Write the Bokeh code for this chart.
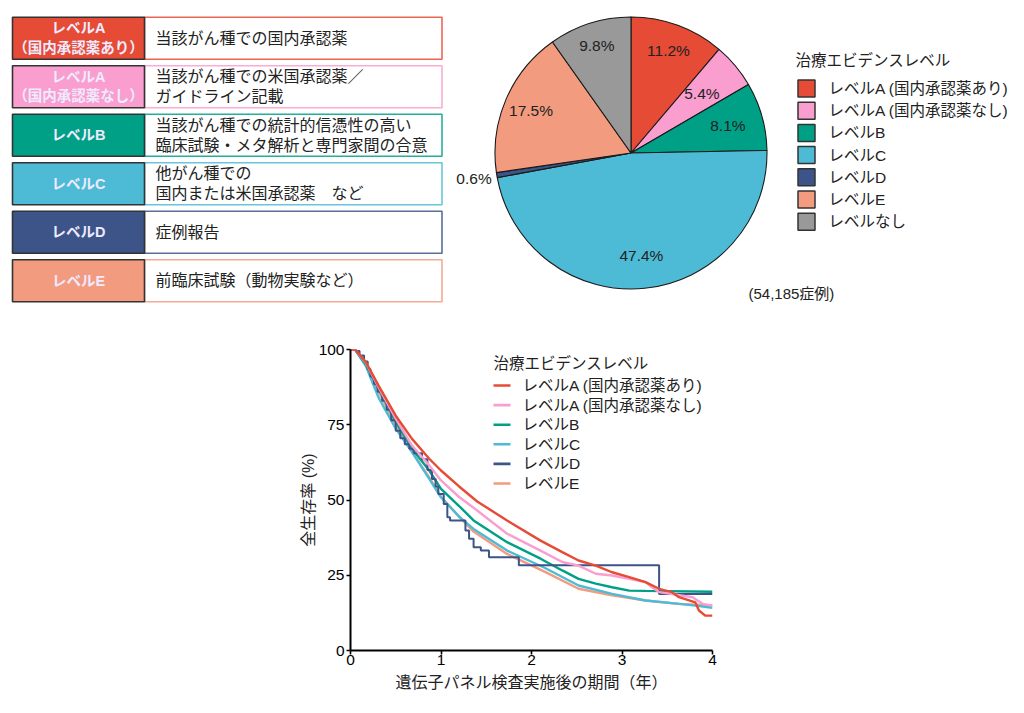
import math
from bokeh.plotting import figure
from bokeh.models import Range1d
from bokeh.embed import file_html
from bokeh.resources import INLINE
from bokeh.core.properties import value

FONT = "Liberation Sans, Noto Sans CJK JP, sans-serif"
TXT = "#222222"

# ---------------- data ----------------
level_names = ["レベルA (国内承認薬あり)", "レベルA (国内承認薬なし)", "レベルB",
               "レベルC", "レベルD", "レベルE", "レベルなし"]
pie_pct = [11.2, 5.4, 8.1, 47.4, 0.6, 17.5, 9.8]
n_cases_label = "(54,185症例)"
legend_title = "治療エビデンスレベル"

table_badge = [["レベルA", "（国内承認薬あり）"],
               ["レベルA", "（国内承認薬なし）"],
               ["レベルB"], ["レベルC"], ["レベルD"], ["レベルE"]]
table_desc = [["当該がん種での国内承認薬"],
              ["当該がん種での米国承認薬／", "ガイドライン記載"],
              ["当該がん種での統計的信憑性の高い", "臨床試験・メタ解析と専門家間の合意"],
              ["他がん種での", "国内または米国承認薬　など"],
              ["症例報告"],
              ["前臨床試験（動物実験など）"]]

colors = ["#E64B35", "#F99ECE", "#00A087", "#4DBBD5", "#3C5488", "#F39B7F", "#999999"]

# Kaplan-Meier readings (years, survival %)
km_t_a1 = [0, 0.05, 0.17, 0.31, 0.5, 0.68, 0.87, 1.0, 1.2, 1.4, 1.73, 2.1, 2.34, 2.52, 2.71, 2.89,
           3.08, 3.26, 3.41, 3.55, 3.63, 3.81, 3.85, 3.92, 4.0]
km_s_a1 = [100, 100, 95.8, 88, 78, 70.3, 63.7, 59.8, 54.5, 49.5, 43.2, 36.5, 32.7, 29.9, 28.2, 26,
           24.4, 22.7, 20.5, 19.4, 17.7, 16, 13.3, 11.6, 11.6]
km_t_a2 = [0, 0.05, 0.17, 0.31, 0.5, 0.68, 0.87, 1.0, 1.2, 1.4, 1.73, 2.1, 2.34, 2.52, 2.71, 2.89,
           3.08, 3.26, 3.33, 3.41, 3.78, 3.89, 4.0]
km_s_a2 = [100, 100, 95.5, 87.5, 77, 68.1, 61.5, 56.5, 51, 46.5, 38.8, 33.2, 29.4, 28.2, 25.5, 24.9,
           23.8, 22.7, 21, 19.4, 17.7, 15.5, 14.9]
km_t_b = [0, 0.05, 0.17, 0.31, 0.5, 0.68, 0.87, 1.0, 1.2, 1.36, 1.73, 2.1, 2.34, 2.52, 2.71, 2.89,
          3.08, 3.26, 4.0]
km_s_b = [100, 100, 95, 86.9, 76, 67, 59.8, 53.7, 48, 43.2, 36, 30.5, 26.6, 23.8, 22.2, 21,
          19.9, 19.8, 19.5]
km_t_c = [0, 0.05, 0.17, 0.31, 0.5, 0.68, 0.87, 1.0, 1.2, 1.36, 1.73, 2.15, 2.52, 2.89, 3.26, 3.63,
          3.81, 4.0]
km_s_c = [100, 100, 94.5, 84, 73.7, 65.9, 57, 50.9, 44.5, 40.4, 33.2, 27.4, 21.6, 18.8, 16.6, 15.5,
          14.9, 14.2]
km_t_d = [0, 0.06, 0.1, 0.15, 0.19, 0.22, 0.26, 0.3, 0.35, 0.4, 0.45, 0.5, 0.55, 0.6, 0.65, 0.7,
          0.79, 0.85, 0.9, 0.94, 0.97, 1.03, 1.07, 1.1, 1.27, 1.31, 1.36, 1.44, 1.53, 1.86, 3.41, 4.0]
km_s_d = [100, 99.5, 98, 96, 93.5, 91, 88.5, 86, 83, 80, 76.5, 73, 70.5, 68.5, 67, 65.5,
          63.5, 60, 57, 54.5, 52, 48.7, 44.3, 43.2, 39.9, 37.1, 34.3, 33.2, 31, 28.3, 18.8, 18.8]
km_t_e = [0, 0.05, 0.17, 0.31, 0.5, 0.68, 0.87, 1.0, 1.2, 1.36, 1.73, 2.15, 2.52, 2.89, 3.26, 3.63,
          4.0]
km_s_e = [100, 100, 95, 86, 75, 66, 57.5, 51, 44.5, 39.5, 32.1, 26.1, 20.5, 18.3, 16.6, 15.5,
          15.0]

x_ticks = [0, 1, 2, 3, 4]
y_ticks = [0, 25, 50, 75, 100]
x_label = "遺伝子パネル検査実施後の期間（年）"
y_label = "全生存率 (%)"

# ---------------- top panel (table + pie) ----------------
TOP_H = 326
top = figure(width=1024, height=TOP_H, x_range=Range1d(0, 1024), y_range=Range1d(-TOP_H, 0),
             output_backend="svg", toolbar_location=None, min_border=0,
             x_axis_type=None, y_axis_type=None)
top.grid.visible = False
top.outline_line_color = None

box_top0, box_pitch, box_h = 16.7, 48.5, 42.0
bx0, bx1, bx2 = 12.0, 144.0, 441.5
for i in range(len(table_badge)):
    t = box_top0 + i * box_pitch
    c = colors[i]
    top.quad(left=[bx1], right=[bx2], top=[-t], bottom=[-(t + box_h)],
             fill_color="white", line_color=c, line_alpha=0.85, line_width=1.6)
    top.quad(left=[bx0], right=[bx1], top=[-t], bottom=[-(t + box_h)],
             fill_color=c, line_color="#333333", line_width=1.6)
    mid = t + box_h / 2
    bl = table_badge[i]
    n = len(bl)
    ys = [-(mid + (k - (n - 1) / 2) * 19.5) for k in range(n)]
    top.text(x=[(bx0 + bx1) / 2] * n, y=ys, text=bl, text_font=value(FONT),
             text_font_size="14.5px", text_font_style="bold", text_color="#EFEAFF",
             text_align="center", text_baseline="middle")
    dl = table_desc[i]
    n = len(dl)
    ys = [-(mid + (k - (n - 1) / 2) * 20.0) for k in range(n)]
    top.text(x=[155] * n, y=ys, text=dl, text_font=value(FONT),
             text_font_size="16px", text_color=TXT,
             text_align="left", text_baseline="middle")

# pie
cx, cy, r = 630.5, -152.5, 136.0
total = sum(pie_pct)
cum = [0.0]
for v in pie_pct:
    cum.append(cum[-1] + v / total)
starts = [math.pi / 2 - 2 * math.pi * cum[i] for i in range(len(pie_pct))]
ends = [math.pi / 2 - 2 * math.pi * cum[i + 1] for i in range(len(pie_pct))]
top.wedge(x=[cx] * len(pie_pct), y=[cy] * len(pie_pct), radius=r,
          start_angle=starts, end_angle=ends, direction="clock",
          fill_color=colors, line_color="#1a1a1a", line_width=1.1)

label_rf = [0.80, 0.68, 0.74, 0.76, 1.17, 0.80, 0.83]
lx, ly, lt = [], [], []
for i, v in enumerate(pie_pct):
    a = 2 * math.pi * (cum[i] + cum[i + 1]) / 2
    rr = r * label_rf[i]
    lx.append(cx + rr * math.sin(a))
    ly.append(cy + rr * math.cos(a))
    lt.append(f"{v:.1f}%")
top.text(x=lx, y=ly, text=lt, text_font=value(FONT), text_font_size="15.5px",
         text_color=TXT, text_align="center", text_baseline="middle")

# pie legend
top.text(x=[795], y=[-60], text=[legend_title], text_font=value(FONT),
         text_font_size="15.5px", text_color=TXT, text_align="left", text_baseline="middle")
ny = len(level_names)
leg_y = [-(88 + k * 22.2) for k in range(ny)]
top.rect(x=[806] * ny, y=leg_y, width=17, height=17, fill_color=colors,
         line_color="#333333", line_width=1.5)
top.text(x=[828] * ny, y=leg_y, text=level_names, text_font=value(FONT),
         text_font_size="15.5px", text_color=TXT, text_align="left", text_baseline="middle")
top.text(x=[748], y=[-293], text=[n_cases_label], text_font=value(FONT),
         text_font_size="15px", text_color=TXT, text_align="left", text_baseline="middle")

# ---------------- KM panel ----------------
FL, FW, FT, FH = 350, 362, 23, 301      # frame left/width, top border/height (px)
KM_H = 384
km = figure(width=1024, height=KM_H, x_range=Range1d(0, 4), y_range=Range1d(0, 100),
            output_backend="svg", toolbar_location=None,
            min_border_left=FL, min_border_right=1024 - FL - FW,
            min_border_top=FT, min_border_bottom=KM_H - FT - FH)
km.grid.visible = False
km.outline_line_color = None

lw = 2.4
km.line(km_t_e, km_s_e, line_color=colors[5], line_width=lw)
km.line(km_t_c, km_s_c, line_color=colors[3], line_width=lw)
km.line(km_t_b, km_s_b, line_color=colors[2], line_width=lw)
km.step(km_t_d, km_s_d, mode="after", line_color=colors[4], line_width=2.0)
km.line(km_t_a2, km_s_a2, line_color=colors[1], line_width=lw)
km.line(km_t_a1, km_s_a1, line_color=colors[0], line_width=lw)

for ax in (km.xaxis[0], km.yaxis[0]):
    ax.axis_line_width = 2
    ax.axis_line_color = "black"
    ax.major_tick_line_width = 1.6
    ax.major_tick_line_color = "black"
    ax.major_tick_in = 0
    ax.major_tick_out = 4
    ax.minor_tick_line_color = None
    ax.major_label_text_font = FONT
    ax.major_label_text_font_size = "15.5px"
    ax.major_label_text_color = "black"
    ax.axis_label_text_font = FONT
    ax.axis_label_text_font_size = "16px"
    ax.axis_label_text_font_style = "normal"
    ax.axis_label_text_color = TXT
km.xaxis.ticker = x_ticks
km.yaxis.ticker = y_ticks
km.xaxis.axis_label = x_label
km.yaxis.axis_label = y_label
km.xaxis.major_label_standoff = 0
km.yaxis.major_label_standoff = 2
km.xaxis.axis_label_standoff = 6
km.yaxis.axis_label_standoff = -1

# legend drawn in the frame (positions converted from page pixels)
def px2x(px):
    return (px - FL) / FW * 4.0

def py2y(py):
    # py measured on the whole page; KM panel starts below the top panel
    return (FT + FH - (py - TOP_H)) / FH * 100.0

km_names = level_names[:6]
km.text(x=[px2x(493)], y=[py2y(363)], text=[legend_title], text_font=value(FONT),
        text_font_size="15.5px", text_color=TXT, text_align="left", text_baseline="middle")
ry = [py2y(385 + k * 19.6) for k in range(len(km_names))]
km.segment(x0=[px2x(493)] * 6, x1=[px2x(510)] * 6, y0=ry, y1=ry,
           line_color=colors[:6], line_width=2.6)
km.text(x=[px2x(522)] * 6, y=ry, text=km_names, text_font=value(FONT),
        text_font_size="15.5px", text_color=TXT, text_align="left", text_baseline="middle")

open("out.html", "w").write(file_html([top, km], INLINE))
